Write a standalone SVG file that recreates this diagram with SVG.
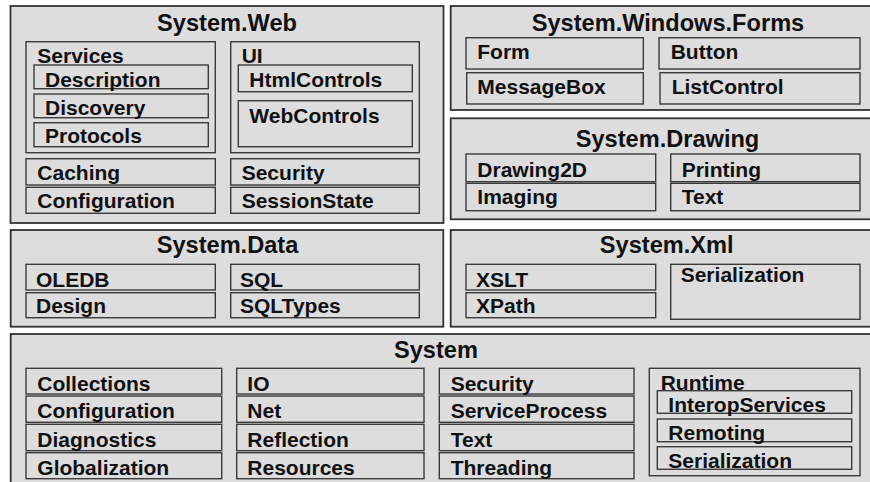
<svg xmlns="http://www.w3.org/2000/svg" width="870" height="482" viewBox="0 0 870 482">
<style>
.o{fill:#dddddd;stroke:#333;stroke-width:1.8}
.i{fill:#dddddd;stroke:#3a3a3a;stroke-width:1.4}
text{font-family:"Liberation Sans",Arial,sans-serif;font-weight:bold;fill:#111}
.t{font-size:23.6px;text-anchor:middle}
.l{font-size:21px}
</style>
<rect width="870" height="482" fill="#ffffff"/>
<g id="system-web">
<rect class="o" x="10.5" y="6" width="433" height="217"/>
<text class="t" x="227" y="31">System.Web</text>
<g id="web-services">
<rect class="i" x="26" y="41.7" width="189.3" height="111"/>
<text class="l" x="37.3" y="63.3">Services</text>
<rect class="i" x="34" y="65" width="174.3" height="23.7"/>
<text class="l" x="45" y="87.3">Description</text>
<rect class="i" x="34" y="94" width="174.3" height="23.7"/>
<text class="l" x="45" y="115">Discovery</text>
<rect class="i" x="34" y="122.7" width="174.3" height="24"/>
<text class="l" x="45" y="143.3">Protocols</text>
</g>
<g id="web-ui">
<rect class="i" x="230.7" y="41.7" width="188.6" height="111"/>
<text class="l" x="241.7" y="63.3">UI</text>
<rect class="i" x="238.3" y="65" width="174" height="26.7"/>
<text class="l" x="249.3" y="86.7">HtmlControls</text>
<rect class="i" x="238.3" y="100.7" width="174" height="46"/>
<text class="l" x="249.3" y="122.7">WebControls</text>
</g>
<g id="web-caching"><rect class="i" x="26" y="158.7" width="189.3" height="26.3"/><text class="l" x="37.3" y="180">Caching</text></g>
<g id="web-configuration"><rect class="i" x="26" y="187.3" width="189.3" height="26"/><text class="l" x="37.3" y="208.3">Configuration</text></g>
<g id="web-security"><rect class="i" x="230.7" y="158.7" width="188.6" height="26.3"/><text class="l" x="241.7" y="180">Security</text></g>
<g id="web-sessionstate"><rect class="i" x="230.7" y="187.3" width="188.6" height="26"/><text class="l" x="241.7" y="208.3">SessionState</text></g>
</g>
<g id="system-windows-forms">
<rect class="o" x="450.7" y="6" width="440" height="104"/>
<text class="t" x="668" y="31">System.Windows.Forms</text>
<g id="forms-form"><rect class="i" x="466" y="37.7" width="177.3" height="31.3"/><text class="l" x="477.3" y="59.3">Form</text></g>
<g id="forms-messagebox"><rect class="i" x="466.7" y="72.7" width="176.6" height="31.3"/><text class="l" x="477.3" y="94.3">MessageBox</text></g>
<g id="forms-button"><rect class="i" x="659" y="37.7" width="201" height="31.3"/><text class="l" x="670.7" y="59.3">Button</text></g>
<g id="forms-listcontrol"><rect class="i" x="660" y="72.7" width="200" height="31.3"/><text class="l" x="671.7" y="94.3">ListControl</text></g>
</g>
<g id="system-drawing">
<rect class="o" x="450.7" y="118.3" width="440" height="101"/>
<text class="t" x="667.5" y="146.7">System.Drawing</text>
<g id="drawing-drawing2d"><rect class="i" x="466" y="154" width="189.7" height="27.7"/><text class="l" x="477.3" y="176.7">Drawing2D</text></g>
<g id="drawing-imaging"><rect class="i" x="466" y="183.3" width="189.7" height="27.4"/><text class="l" x="477.3" y="204">Imaging</text></g>
<g id="drawing-printing"><rect class="i" x="670.7" y="154" width="189.3" height="27.7"/><text class="l" x="681.7" y="176.7">Printing</text></g>
<g id="drawing-text"><rect class="i" x="670.7" y="183.3" width="189.3" height="27.4"/><text class="l" x="681.7" y="204">Text</text></g>
</g>
<g id="system-data">
<rect class="o" x="10.7" y="230" width="432.6" height="96.7"/>
<text class="t" x="227.5" y="253.3">System.Data</text>
<g id="data-oledb"><rect class="i" x="26" y="264.3" width="189.3" height="25.7"/><text class="l" x="36" y="286.7">OLEDB</text></g>
<g id="data-design"><rect class="i" x="26" y="292.7" width="189.3" height="25"/><text class="l" x="36" y="313.3">Design</text></g>
<g id="data-sql"><rect class="i" x="230.7" y="264.3" width="188.6" height="25.7"/><text class="l" x="240" y="286.7">SQL</text></g>
<g id="data-sqltypes"><rect class="i" x="230.7" y="292.7" width="188.6" height="25"/><text class="l" x="240" y="313.3">SQLTypes</text></g>
</g>
<g id="system-xml">
<rect class="o" x="450.7" y="230" width="440" height="96.7"/>
<text class="t" x="666.7" y="253.3">System.Xml</text>
<g id="xml-xslt"><rect class="i" x="466" y="264.3" width="189.7" height="25.7"/><text class="l" x="476" y="286.7">XSLT</text></g>
<g id="xml-xpath"><rect class="i" x="466" y="292.7" width="189.7" height="25"/><text class="l" x="476" y="313.3">XPath</text></g>
<g id="xml-serialization"><rect class="i" x="670.7" y="264.3" width="189.3" height="55"/><text class="l" x="680.7" y="281.7">Serialization</text></g>
</g>
<g id="system">
<rect class="o" x="10.7" y="334" width="880" height="160"/>
<text class="t" x="436" y="357.5">System</text>
<g id="sys-collections"><rect class="i" x="26" y="368.3" width="195.7" height="25.7"/><text class="l" x="37.3" y="390.7">Collections</text></g>
<g id="sys-configuration"><rect class="i" x="26" y="396" width="195.7" height="26.3"/><text class="l" x="37.3" y="418.3">Configuration</text></g>
<g id="sys-diagnostics"><rect class="i" x="26" y="424.3" width="195.7" height="26.4"/><text class="l" x="37.3" y="446.7">Diagnostics</text></g>
<g id="sys-globalization"><rect class="i" x="26" y="452.7" width="195.7" height="26"/><text class="l" x="37.3" y="475">Globalization</text></g>
<g id="sys-io"><rect class="i" x="236.7" y="368.3" width="187.3" height="25.7"/><text class="l" x="247.3" y="390.7">IO</text></g>
<g id="sys-net"><rect class="i" x="236.7" y="396" width="187.3" height="26.3"/><text class="l" x="247.3" y="418.3">Net</text></g>
<g id="sys-reflection"><rect class="i" x="236.7" y="424.3" width="187.3" height="26.4"/><text class="l" x="247.3" y="446.7">Reflection</text></g>
<g id="sys-resources"><rect class="i" x="236.7" y="452.7" width="187.3" height="26"/><text class="l" x="247.3" y="475">Resources</text></g>
<g id="sys-security"><rect class="i" x="439.3" y="368.3" width="194.7" height="25.7"/><text class="l" x="450.7" y="390.7">Security</text></g>
<g id="sys-serviceprocess"><rect class="i" x="439.3" y="396" width="194.7" height="26.3"/><text class="l" x="450.7" y="418.3">ServiceProcess</text></g>
<g id="sys-text"><rect class="i" x="439.3" y="424.3" width="194.7" height="26.4"/><text class="l" x="450.7" y="446.7">Text</text></g>
<g id="sys-threading"><rect class="i" x="439.3" y="452.7" width="194.7" height="26"/><text class="l" x="450.7" y="475">Threading</text></g>
<g id="sys-runtime">
<rect class="i" x="649.3" y="368.3" width="210.7" height="107.4"/>
<text class="l" x="660.7" y="390">Runtime</text>
<rect class="i" x="657.3" y="390.7" width="194.4" height="22.6"/>
<text class="l" x="668.3" y="411.7">InteropServices</text>
<rect class="i" x="657.3" y="419" width="194.4" height="22.7"/>
<text class="l" x="668.3" y="440">Remoting</text>
<rect class="i" x="657.3" y="446.7" width="194.4" height="22.6"/>
<text class="l" x="668.3" y="468.3">Serialization</text>
</g>
</g>
</svg>
